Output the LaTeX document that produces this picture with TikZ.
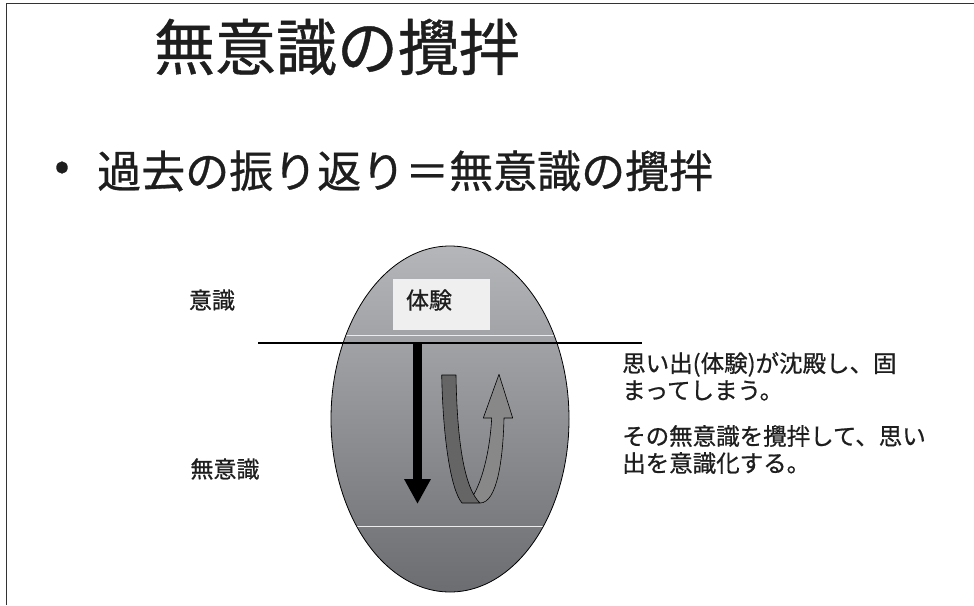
\documentclass[tikz,border=0pt]{standalone}
\usepackage{fontspec}
\newfontfamily\jp[FakeBold=0.7]{Noto Sans CJK JP}
\usetikzlibrary{arrows.meta}
\definecolor{txt}{HTML}{1E1E1E}
\definecolor{etop}{HTML}{B5B6BA}
\definecolor{ebot}{HTML}{6C6D71}
\definecolor{boxfill}{HTML}{EEEFEE}
\definecolor{stripL}{HTML}{656565}
\definecolor{stripR}{HTML}{888888}
\tikzset{
  jptext/.style={font=\jp, text=txt, inner sep=0pt},
  ribbon/.style={draw=black, line width=0.6pt, line join=round}
}
\begin{document}
\begin{tikzpicture}[x=1pt,y=-1pt]
\useasboundingbox (0,0) rectangle (974,605);
\fill[white] (0,0) rectangle (974,605);
% frame
\draw[line width=1.5pt, color=black!80] (6.5,605) -- (6.5,3.5) -- (974,3.5);
% title
\node[jptext, font=\jp\fontsize{61}{61}\selectfont] (title) at (337,47) {無意識の攪拌};
\node[jptext, font=\jp\fontsize{44}{44}\selectfont] (bullet) at (62,171) {•};
\node[jptext, font=\jp\fontsize{44}{44}\selectfont, anchor=west] (sub) at (97,171) {過去の振り返り＝無意識の攪拌};
% ellipse
\begin{scope}
  \clip (450,419) ellipse [x radius=119, y radius=173];
  \shade[top color=etop, bottom color=ebot] (331,246) rectangle (569,592);
  \draw[white!85!gray, line width=0.8pt] (331,335) -- (569,335);
  \draw[white!85!gray, line width=0.8pt] (331,526) -- (569,526);
\end{scope}
\draw[line width=0.8pt] (450,419) ellipse [x radius=119, y radius=173];
% box
\node[fill=boxfill, minimum width=97pt, minimum height=51pt, inner sep=0pt] (taiken) at (441.5,304.5) {};
\node[jptext, font=\jp\fontsize{23}{23}\selectfont] (taikentext) at (429,300) {体験};
% horizontal line
\coordinate (hl) at (258,343);
\coordinate (hr) at (642,343);
\draw[line width=1.6pt] (hl) -- (hr);
% black arrow
\coordinate (ba) at (417.5,343);
\coordinate (bb) at (417.5,504);
\draw[line width=8.5pt, -{Triangle[width=25pt,length=25pt]}] (ba) -- (bb);
% ribbon arrow: right strip
\fill[stripR] (470,500) .. controls (482,485) and (490,450) .. (491.7,418) -- (483.3,418) -- (499,374.3) -- (512.7,418) -- (504,418) .. controls (503,460) and (497,503) .. (480,503) -- cycle;
\draw[ribbon] (470,500) .. controls (482,485) and (490,450) .. (491.7,418) -- (483.3,418) -- (499,374.3) -- (512.7,418) -- (504,418) .. controls (503,460) and (497,503) .. (480,503);
% left strip
\filldraw[ribbon, fill=stripL] (441.7,375) -- (456,375) .. controls (457,440) and (464,488) .. (480,503) -- (462,503) .. controls (451,490) and (443,440) .. (441.7,375) -- cycle;
% labels
\node[jptext, font=\jp\fontsize{23}{23}\selectfont] (ishiki) at (212,300) {意識};
\node[jptext, font=\jp\fontsize{23}{23}\selectfont] (muishiki) at (225,469) {無意識};
\node[jptext, font=\jp\fontsize{23.5}{27}\selectfont, anchor=north west, align=left] (t1) at (622,352) {思い出(体験)が沈殿し、固\\まってしまう。};
\node[jptext, font=\jp\fontsize{23.5}{27}\selectfont, anchor=north west, align=left] (t2) at (622,425) {その無意識を攪拌して、思い\\出を意識化する。};
\end{tikzpicture}
\end{document}
